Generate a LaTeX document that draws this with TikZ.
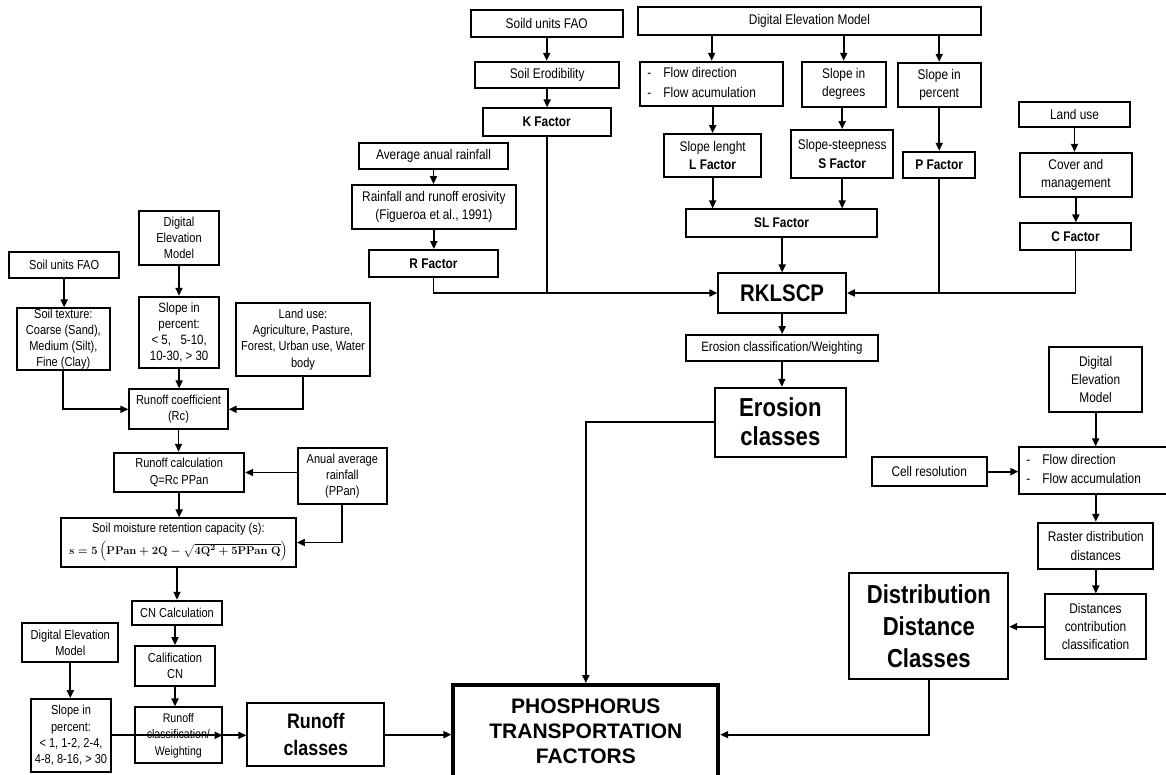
\documentclass[tikz,border=0pt]{standalone}
\usepackage{amsmath}
\usepackage{graphicx}
\usepackage[no-math]{fontspec}
\setmainfont[FakeStretch=0.85]{Liberation Sans}
\newfontfamily\plainsans{Liberation Sans}
\usetikzlibrary{arrows.meta}
\newcommand\fsz[2]{\fontsize{#1}{#2}\selectfont}
% \bx[options]{name}{x1}{y1}{x2}{y2}{text}
\newcommand\bx[7][]{\node[box,#1,minimum width={(#5)-(#3)},minimum height={(#6)-(#4)}] (#2) at ({((#3)+(#5))/2},{((#4)+(#6))/2}) {#7};}
\begin{document}
\begin{tikzpicture}[x=1pt,y=-1pt,
  box/.style={draw, line width=1.8pt, inner sep=0pt, outer sep=0.9pt, align=center, font=\fsz{14}{18.3}},
  lbox/.style={box, font=\fsz{13}{16.2}},
  bigbox/.style={box, font=\fsz{25}{30}\bfseries},
  arr/.style={line width=1.8pt, -{Triangle[length=8pt,width=7pt]}},
  ln/.style={line width=1.8pt},
]
\useasboundingbox (0,0) rectangle (1166,775);

% ---------- top: erosion ----------
\bx{sfao}{470.7}{10}{622.7}{36.7}{Soild units FAO}
\bx{serod}{475}{61.7}{619.3}{88.3}{Soil Erodibility}
\bx{kfac}{482.7}{108.3}{610.7}{136}{\textbf{K Factor}}
\bx{avgr}{359}{143.3}{508}{169.3}{Average anual rainfall}
\bx{rain}{351.7}{185}{516}{229.3}{Rainfall and runoff erosivity\\(Figueroa et al., 1991)}
\bx{rfac}{369.3}{250}{497.7}{276.7}{\textbf{R Factor}}
\bx{dem}{638.3}{7.3}{980.7}{35}{Digital Elevation Model}
\bx{flow}{640}{61.7}{783.3}{106}{\begin{tabular}{@{}l@{\hspace{12pt}}l@{\hspace{20pt}}}-&Flow direction\\[1pt]-&Flow acumulation\end{tabular}}
\bx{lfac}{664.3}{134}{761}{177.3}{Slope lenght\\\textbf{L Factor}}
\bx{sdeg}{801.7}{61.7}{885.7}{106.7}{Slope in\\degrees}
\bx{sfac}{791}{130}{893.3}{177.7}{Slope-steepness\\\textbf{S Factor}}
\bx{spct}{897.7}{62.7}{980.7}{107.3}{Slope in\\percent}
\bx{pfac}{903.3}{151.7}{975}{177.7}{\textbf{P Factor}}
\bx{luse}{1018.7}{101.7}{1130.3}{127.3}{Land use}
\bx{cover}{1020}{152.7}{1131.7}{196.7}{Cover and\\management}
\bx{cfac}{1020.3}{223.3}{1130.7}{250}{\textbf{C Factor}}
\bx{slfac}{686}{209.3}{877.3}{236.7}{\textbf{SL Factor}}
\bx[font=\fsz{24}{28}\bfseries]{rkl}{718.3}{273.3}{846}{312.7}{RKLSCP}
\bx[font=\fsz{13.5}{16}]{ecw}{686}{335}{877.7}{361}{Erosion classification/Weighting}
\bx[bigbox, font=\fsz{26}{29}\bfseries]{ecl}{715}{387.7}{845.7}{456.7}{Erosion\\classes}

% ---------- right: distances ----------
\bx{demr}{1049.3}{347.3}{1142}{411.7}{Digital\\Elevation\\Model}
\bx{cell}{871.7}{457.3}{986.7}{486}{Cell resolution}
\bx{flowr}{1019.3}{447.3}{1172}{494}{\begin{tabular}{@{}l@{\hspace{12pt}}l@{\hspace{24pt}}}-&Flow direction\\[1pt]-&Flow accumulation\end{tabular}}
\bx{raster}{1038.3}{522.7}{1153.3}{569}{Raster distribution\\distances}
\bx{dcc}{1045}{594.3}{1146}{659}{Distances\\contribution\\classification}
\bx[bigbox, font=\fsz{26}{31.7}\bfseries]{ddc}{849.3}{573.3}{1008.3}{679}{Distribution\\Distance\\Classes}
\bx[line width=3.8pt, outer sep=1.9pt, font=\plainsans\fsz{21}{25}\bfseries]{pho}{453.3}{685}{718.3}{777}{PHOSPHORUS\\TRANSPORTATION\\FACTORS}

% ---------- left: runoff ----------
\bx[lbox]{sfao2}{9.3}{251.7}{119}{277.7}{Soil units FAO}
\bx[lbox]{stex}{16.7}{308.3}{110}{370}{Soil texture:\\Coarse (Sand),\\Medium (Silt),\\Fine (Clay)}
\bx[lbox]{deml}{139}{211}{219}{265}{Digital\\Elevation\\Model}
\bx[lbox, font=\fsz{13.5}{16.2}]{spl}{139.3}{296.7}{219}{368.3}{Slope in\\percent:\\< 5,\ \ \ 5-10,\\10-30, > 30}
\bx[lbox]{lu2}{236}{303.3}{370}{375.7}{Land use:\\Agriculture, Pasture,\\Forest, Urban use, Water\\body}
\bx[lbox]{rc}{129.3}{389.3}{227.7}{429.3}{Runoff coefficient\\(Rc)}
\bx[lbox]{rcalc}{114}{452.7}{244.3}{492.3}{Runoff calculation\\Q=Rc PPan}
\bx[lbox]{anual}{298}{448.3}{386.7}{504.3}{Anual average\\rainfall\\(PPan)}
\bx[lbox]{sm}{60.7}{518.3}{296}{566.7}{Soil moisture retention capacity (s):\\[5pt]\resizebox{218pt}{!}{\boldmath$\mathrm{s}=5\left(\mathrm{PPan}+2\mathrm{Q}-\sqrt{4\mathrm{Q}^2+5\mathrm{PPan\;Q}}\right)$}}
\bx[lbox]{cn}{132.3}{600.7}{221.7}{624.7}{CN Calculation}
\bx[lbox]{calif}{135}{646}{215}{686}{Calification\\CN}
\bx[lbox]{demb}{22.3}{622.7}{118.3}{662.3}{Digital Elevation\\Model}
\bx[lbox]{spb}{31}{699}{111}{771.7}{Slope in\\percent:\\< 1, 1-2, 2-4,\\4-8, 8-16, > 30}
\bx[lbox, font=\fsz{12.5}{16.5}]{rcw}{135}{707.3}{221.7}{763.3}{Runoff\\classification/\\Weighting}
\bx[font=\fsz{21}{27}\bfseries]{rcl}{247.3}{703.3}{384.3}{766}{Runoff\\classes}

% ---------- connectors: erosion ----------
\draw[arr] (sfao.south) -- (sfao.south |- serod.north);
\draw[arr] (serod.south) -- (serod.south |- kfac.north);
\draw[arr] (avgr.south) -- (avgr.south |- rain.north);
\draw[arr] (rain.south) -- (rain.south |- rfac.north);
\draw[arr] (rfac.south) |- (rkl.west);
\draw[ln] (kfac.south) -- (kfac.south |- rkl.west);
\draw[arr] (dem.south -| flow.north) -- (flow.north);
\draw[arr] (dem.south -| sdeg.north) -- (sdeg.north);
\draw[arr] (dem.south -| spct.north) -- (spct.north);
\draw[arr] (flow.south -| lfac.north) -- (lfac.north);
\draw[arr] (sdeg.south -| sfac.north) -- (sfac.north);
\draw[arr] (spct.south) -- (spct.south |- pfac.north);
\draw[arr] (lfac.south) -- (lfac.south |- slfac.north);
\draw[arr] (sfac.south) -- (sfac.south |- slfac.north);
\draw[arr] (slfac.south -| rkl.north) -- (rkl.north);
\draw[ln] (pfac.south) -- (pfac.south |- rkl.east);
\draw[arr] (luse.south) -- (luse.south |- cover.north);
\draw[arr] (cover.south) -- (cover.south |- cfac.north);
\draw[arr] (cfac.south) |- (rkl.east);
\draw[arr] (rkl.south) -- (rkl.south |- ecw.north);
\draw[arr] (ecw.south) -- (ecw.south |- ecl.north);
\draw[arr] (ecl.west) -| (pho.north);

% ---------- connectors: distances ----------
\draw[arr] (demr.south) -- (demr.south |- flowr.north);
\draw[arr] (cell.east) -- (cell.east -| flowr.west);
\draw[arr] (raster.north |- flowr.south) -- (raster.north);
\draw[arr] (raster.south) -- (raster.south |- dcc.north);
\draw[arr] (dcc.west) -- (dcc.west -| ddc.east);
\draw[arr] (ddc.south) |- (pho.east |- rcl.east);

% ---------- connectors: runoff ----------
\draw[arr] (sfao2.south) -- (sfao2.south |- stex.north);
\draw[arr] (stex.south) |- (rc.west);
\draw[arr] (deml.south) -- (deml.south |- spl.north);
\draw[arr] (spl.south) -- (spl.south |- rc.north);
\draw[arr] (lu2.south) |- (rc.east);
\draw[arr] (rc.south) -- (rc.south |- rcalc.north);
\draw[arr] (anual.west |- rcalc.east) -- (rcalc.east);
\draw[arr] (anual.south) |- (sm.east);
\draw[arr] (rcalc.south) -- (rcalc.south |- sm.north);
\draw[arr] (sm.south -| cn.north) -- (cn.north);
\draw[arr] (cn.south -| calif.north) -- (calif.north);
\draw[arr] (calif.south) -- (calif.south |- rcw.north);
\draw[arr] (demb.south) -- (demb.south |- spb.north);
\draw[arr] (spb.east |- rcw.east) -- (rcw.east);
\draw[arr] (rcw.east) -- (rcw.east -| rcl.west);
\draw[arr] (rcl.east) -- (rcl.east -| pho.west);
\end{tikzpicture}
\end{document}
